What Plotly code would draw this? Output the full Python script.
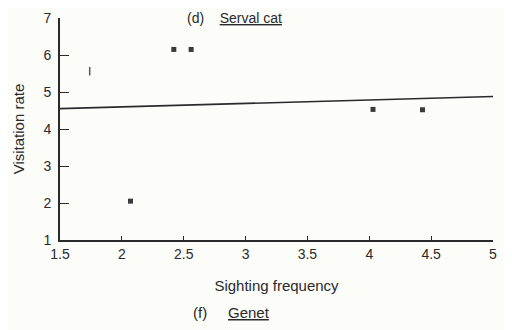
import plotly.graph_objects as go

sighting = [2.07, 2.42, 2.56, 4.03, 4.43]
visitation = [2.05, 6.15, 6.15, 4.53, 4.52]
faint_x = [1.74]
faint_y = [5.56]
fit_x = [1.5, 5.0]
fit_y = [4.55, 4.88]
x_ticks = [1.5, 2, 2.5, 3, 3.5, 4, 4.5, 5]
x_labels = ["1.5", "2", "2.5", "3", "3.5", "4", "4.5", "5"]
y_ticks = [1, 2, 3, 4, 5, 6, 7]

ink = "#2a2a2a"
bg = "#fcfcf9"
font = "Liberation Sans"

fig = go.Figure()
fig.add_trace(go.Scatter(x=fit_x, y=fit_y, mode="lines",
                         line=dict(color=ink, width=1.6), hoverinfo="skip"))
fig.add_trace(go.Scatter(x=sighting, y=visitation, mode="markers",
                         marker=dict(symbol="square", size=5, color="#3a3a3a")))
fig.add_trace(go.Scatter(x=faint_x, y=faint_y, mode="markers",
                         marker=dict(symbol="line-ns", size=6,
                                     line=dict(color="#555", width=1.5))))

axis_common = dict(showline=True, linecolor=ink, linewidth=1.6, showgrid=False,
                   zeroline=False, ticks="inside", tickcolor=ink, tickwidth=1.2,
                   automargin=False, ticklabeloverflow="allow",
                   tickfont=dict(family=font, size=14, color=ink))

fig.update_layout(
    width=512, height=330, showlegend=False,
    paper_bgcolor=bg, plot_bgcolor=bg,
    margin=dict(l=52, r=27, t=10, b=98),
    xaxis=dict(range=[1.5, 5], tickvals=x_ticks, ticktext=x_labels, ticklen=4,
               title=dict(text="Sighting frequency",
                          font=dict(family=font, size=15, color=ink), standoff=20),
               **axis_common),
    yaxis=dict(range=[1, 7], tickvals=y_ticks, ticklen=9, ticklabelstandoff=4,
               title=dict(text="Visitation rate",
                          font=dict(family=font, size=15, color=ink), standoff=15),
               **axis_common),
    annotations=[
        dict(text="(d)    <u>Serval cat</u>", xref="paper", yref="paper",
             x=0.288, y=1.045, xanchor="left", yanchor="top", showarrow=False,
             font=dict(family=font, size=14, color=ink)),
        dict(text="(f)     <u>Genet</u>", xref="paper", yref="paper",
             x=0.303, y=-0.325, xanchor="left", yanchor="middle", showarrow=False,
             font=dict(family=font, size=15, color=ink)),
    ],
)

fig.write_html("out.html")
